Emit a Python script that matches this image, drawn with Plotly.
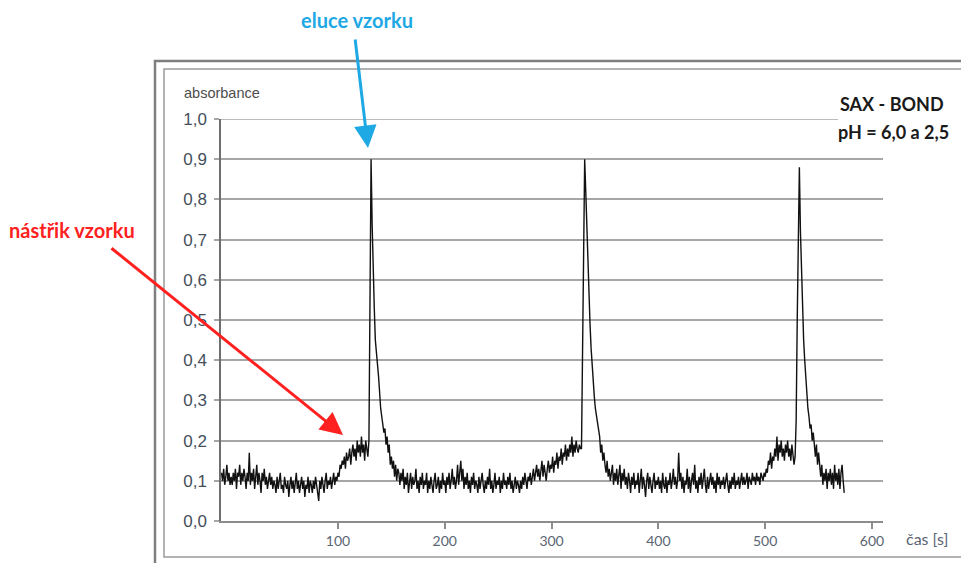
import plotly.graph_objects as go

# Absorbance record, one reading per second (−9 … 574 s)
time_s = list(range(-9, 575))
absorbance = [
    # −9 … −1 s
    0.12, 0.10, 0.13, 0.09, 0.11, 0.14, 0.10, 0.12, 0.09,
    # 0–19 s
    0.11, 0.09, 0.12, 0.10, 0.13, 0.08, 0.12, 0.11, 0.14, 0.09, 0.12, 0.10, 0.13, 0.11, 0.08, 0.12, 0.10, 0.17, 0.09, 0.12,
    # 20–39 s
    0.10, 0.13, 0.08, 0.11, 0.14, 0.09, 0.12, 0.10, 0.07, 0.12, 0.10, 0.13, 0.09, 0.11, 0.08, 0.10, 0.12, 0.09, 0.11, 0.08,
    # 40–59 s
    0.10, 0.09, 0.07, 0.11, 0.08, 0.10, 0.12, 0.08, 0.09, 0.07, 0.11, 0.09, 0.08, 0.10, 0.06, 0.09, 0.11, 0.08, 0.10, 0.07,
    # 60–79 s
    0.09, 0.12, 0.08, 0.10, 0.07, 0.09, 0.11, 0.08, 0.10, 0.06, 0.09, 0.08, 0.11, 0.07, 0.10, 0.09, 0.07, 0.10, 0.08, 0.11,
    # 80–99 s
    0.09, 0.07, 0.05, 0.10, 0.08, 0.11, 0.09, 0.07, 0.10, 0.12, 0.08, 0.10, 0.09, 0.11, 0.08, 0.10, 0.12, 0.09, 0.11, 0.10,
    # 100–119 s
    0.12, 0.11, 0.14, 0.13, 0.15, 0.14, 0.16, 0.13, 0.17, 0.15, 0.16, 0.18, 0.14, 0.17, 0.19, 0.16, 0.18, 0.15, 0.20, 0.17,
    # 120–139 s
    0.19, 0.16, 0.21, 0.17, 0.19, 0.15, 0.20, 0.18, 0.16, 0.20, 0.55, 0.90, 0.74, 0.61, 0.53, 0.45, 0.41, 0.39, 0.36, 0.31,
    # 140–159 s
    0.28, 0.26, 0.24, 0.22, 0.23, 0.19, 0.21, 0.17, 0.19, 0.14, 0.16, 0.13, 0.15, 0.11, 0.14, 0.10, 0.13, 0.12, 0.09, 0.12,
    # 160–179 s
    0.10, 0.13, 0.08, 0.11, 0.09, 0.12, 0.07, 0.10, 0.12, 0.08, 0.11, 0.09, 0.10, 0.13, 0.08, 0.10, 0.07, 0.11, 0.09, 0.12,
    # 180–199 s
    0.08, 0.10, 0.09, 0.12, 0.07, 0.10, 0.08, 0.11, 0.09, 0.07, 0.10, 0.12, 0.08, 0.09, 0.11, 0.07, 0.10, 0.08, 0.12, 0.09,
    # 200–219 s
    0.10, 0.07, 0.11, 0.09, 0.12, 0.08, 0.10, 0.13, 0.09, 0.11, 0.08, 0.10, 0.14, 0.09, 0.12, 0.15, 0.10, 0.13, 0.08, 0.11,
    # 220–239 s
    0.09, 0.12, 0.08, 0.10, 0.07, 0.11, 0.09, 0.12, 0.08, 0.10, 0.09, 0.07, 0.11, 0.08, 0.10, 0.12, 0.09, 0.07, 0.10, 0.08,
    # 240–259 s
    0.11, 0.09, 0.13, 0.08, 0.10, 0.07, 0.09, 0.12, 0.08, 0.10, 0.09, 0.11, 0.07, 0.10, 0.08, 0.12, 0.09, 0.10, 0.08, 0.11,
    # 260–279 s
    0.09, 0.12, 0.08, 0.10, 0.07, 0.09, 0.11, 0.08, 0.10, 0.09, 0.07, 0.10, 0.08, 0.11, 0.09, 0.12, 0.10, 0.08, 0.11, 0.10,
    # 280–299 s
    0.12, 0.09, 0.11, 0.13, 0.10, 0.12, 0.14, 0.11, 0.13, 0.10, 0.12, 0.15, 0.11, 0.14, 0.12, 0.10, 0.13, 0.15, 0.12, 0.14,
    # 300–319 s
    0.13, 0.16, 0.12, 0.15, 0.14, 0.17, 0.13, 0.16, 0.15, 0.18, 0.14, 0.17, 0.16, 0.19, 0.15, 0.18, 0.16, 0.19, 0.17, 0.21,
    # 320–339 s
    0.16, 0.19, 0.17, 0.20, 0.18, 0.17, 0.19, 0.18, 0.18, 0.40, 0.68, 0.90, 0.82, 0.72, 0.64, 0.56, 0.49, 0.43, 0.38, 0.33,
    # 340–359 s
    0.31, 0.28, 0.26, 0.25, 0.23, 0.21, 0.17, 0.19, 0.15, 0.17, 0.14, 0.12, 0.15, 0.11, 0.13, 0.10, 0.12, 0.14, 0.09, 0.12,
    # 360–379 s
    0.10, 0.13, 0.09, 0.11, 0.14, 0.08, 0.12, 0.10, 0.13, 0.09, 0.11, 0.08, 0.12, 0.10, 0.07, 0.11, 0.09, 0.12, 0.08, 0.10,
    # 380–399 s
    0.09, 0.12, 0.07, 0.10, 0.13, 0.08, 0.11, 0.09, 0.06, 0.10, 0.12, 0.08, 0.11, 0.09, 0.07, 0.10, 0.12, 0.08, 0.10, 0.09,
    # 400–419 s
    0.11, 0.08, 0.10, 0.07, 0.12, 0.09, 0.08, 0.11, 0.07, 0.10, 0.09, 0.12, 0.08, 0.10, 0.13, 0.09, 0.11, 0.08, 0.10, 0.17,
    # 420–439 s
    0.10, 0.12, 0.08, 0.11, 0.07, 0.10, 0.09, 0.13, 0.08, 0.11, 0.07, 0.10, 0.12, 0.09, 0.14, 0.08, 0.10, 0.07, 0.11, 0.09,
    # 440–459 s
    0.12, 0.08, 0.10, 0.13, 0.09, 0.07, 0.11, 0.08, 0.10, 0.12, 0.09, 0.11, 0.08, 0.10, 0.07, 0.12, 0.09, 0.11, 0.08, 0.10,
    # 460–479 s
    0.09, 0.11, 0.08, 0.10, 0.12, 0.09, 0.07, 0.10, 0.08, 0.11, 0.09, 0.12, 0.08, 0.10, 0.09, 0.11, 0.08, 0.10, 0.12, 0.09,
    # 480–499 s
    0.11, 0.09, 0.10, 0.12, 0.08, 0.11, 0.10, 0.09, 0.12, 0.10, 0.11, 0.09, 0.12, 0.10, 0.11, 0.09, 0.12, 0.11, 0.10, 0.12,
    # 500–519 s
    0.11, 0.13, 0.12, 0.15, 0.14, 0.17, 0.13, 0.16, 0.15, 0.18, 0.16, 0.21, 0.15, 0.19, 0.17, 0.20, 0.16, 0.18, 0.15, 0.19,
    # 520–539 s
    0.17, 0.20, 0.16, 0.18, 0.15, 0.19, 0.17, 0.14, 0.16, 0.25, 0.50, 0.75, 0.88, 0.72, 0.62, 0.52, 0.45, 0.40, 0.35, 0.31,
    # 540–559 s
    0.28, 0.26, 0.23, 0.24, 0.20, 0.22, 0.18, 0.16, 0.19, 0.14, 0.17, 0.13, 0.11, 0.14, 0.09, 0.12, 0.10, 0.13, 0.08, 0.12,
    # 560–574 s
    0.10, 0.13, 0.09, 0.12, 0.08, 0.14, 0.10, 0.12, 0.09, 0.13, 0.08, 0.12, 0.14, 0.10, 0.07,
]

x_ticks = [100, 200, 300, 400, 500, 600]
y_ticks = [0.0, 0.1, 0.2, 0.3, 0.4, 0.5, 0.6, 0.7, 0.8, 0.9, 1.0]

GRID = "#a6a6a6"
TICK_TEXT = "#454f5c"

fig = go.Figure()
fig.add_trace(go.Scatter(
    x=time_s, y=absorbance, mode="lines",
    line=dict(color="#111111", width=1.4),
    showlegend=False, hoverinfo="x+y",
))

fig.update_layout(
    width=961, height=563,
    margin=dict(l=221, r=78, t=119, b=42),
    paper_bgcolor="white", plot_bgcolor="white",
    separators=", ",
    font=dict(family="Arial, Liberation Sans, sans-serif", color=TICK_TEXT),
    showlegend=False,
)

fig.update_xaxes(
    range=[-9.5, 610.3],
    tickvals=x_ticks,
    showgrid=False, zeroline=False,
    showline=True, linecolor="#8c8c8c", linewidth=1.5,
    ticks="outside", ticklen=6, tickcolor="#8c8c8c", tickwidth=1.5,
    tickfont=dict(size=14, color="#5a6573", family="Lato, Arial, sans-serif"),
)
fig.update_yaxes(
    range=[0, 1.0],
    tickvals=y_ticks, tickformat=".1f",
    showgrid=True, gridcolor=GRID, gridwidth=1.5,
    zeroline=False,
    showline=True, linecolor="#6e6e6e", linewidth=1.5,
    ticks="outside", ticklen=5, tickcolor=GRID, tickwidth=1.5,
    ticklabelstandoff=4,
    tickfont=dict(size=17, color=TICK_TEXT),
)

def px_x(p):
    return (p - 221) / 662

def px_y(p):
    return 1 - (p - 119) / 402

# Double frame around the chart
fig.add_shape(type="rect", xref="paper", yref="paper",
              x0=px_x(155), x1=px_x(985), y0=px_y(61), y1=px_y(580),
              line=dict(color="#7f7f7f", width=2.5), layer="below")
fig.add_shape(type="rect", xref="paper", yref="paper",
              x0=px_x(164), x1=px_x(975), y0=px_y(69), y1=px_y(557),
              line=dict(color="#9a9a9a", width=1.5), layer="below")
# Top gridline at 1,0 (sits on the plot edge)
fig.add_shape(type="line", xref="paper", yref="y", x0=0, x1=1, y0=1.0, y1=1.0,
              line=dict(color=GRID, width=1.5), layer="below")

# Axis captions
fig.add_annotation(xref="paper", yref="paper", x=px_x(182), y=px_y(93),
                   xanchor="left", yanchor="middle", showarrow=False,
                   text="absorbance", font=dict(size=14.5, color="#4d4d4d"))
fig.add_annotation(xref="paper", yref="paper", x=px_x(904), y=px_y(538),
                   xanchor="left", yanchor="middle", showarrow=False,
                   text="čas [s]", font=dict(size=16, color="#5a6573",
                                             family="Lato, Arial, sans-serif"))

# Column label
fig.add_shape(type="rect", xref="paper", yref="paper",
              x0=px_x(838), x1=px_x(958), y0=px_y(88), y1=px_y(146),
              fillcolor="white", line=dict(width=0), layer="above")
fig.add_annotation(xref="paper", yref="paper", x=px_x(892), y=px_y(104),
                   xanchor="center", yanchor="middle", showarrow=False,
                   text="<b>SAX - BOND</b>",
                   font=dict(size=18, color="#1a1a1a", family="Lato, sans-serif"))
fig.add_annotation(xref="paper", yref="paper", x=px_x(893), y=px_y(132),
                   xanchor="center", yanchor="middle", showarrow=False,
                   text="<b>pH = 6,0 a 2,5</b>",
                   font=dict(size=18, color="#1a1a1a", family="Lato, sans-serif"))

# Elution marker
fig.add_annotation(xref="paper", yref="paper", x=px_x(357), y=px_y(20),
                   xanchor="center", yanchor="middle", showarrow=False,
                   text="<b>eluce vzorku</b>",
                   font=dict(size=20, color="#1ea8e4", family="Lato, sans-serif"))
fig.add_annotation(xref="paper", yref="paper", x=px_x(368), y=px_y(148),
                   ax=355 - 368, ay=38 - 148, axref="pixel", ayref="pixel",
                   text="", showarrow=True, arrowhead=2, arrowsize=1.5,
                   arrowwidth=3, arrowcolor="#1ea8e4")

# Injection marker
fig.add_annotation(xref="paper", yref="paper", x=px_x(72), y=px_y(230),
                   xanchor="center", yanchor="middle", showarrow=False,
                   text="<b>nástřik vzorku</b>",
                   font=dict(size=20, color="#ff2020", family="Lato, sans-serif"))
fig.add_annotation(xref="paper", yref="paper", x=px_x(343), y=px_y(435),
                   ax=110 - 343, ay=247 - 435, axref="pixel", ayref="pixel",
                   text="", showarrow=True, arrowhead=2, arrowsize=1.5,
                   arrowwidth=3, arrowcolor="#ff2020")

fig.write_html("out.html")
